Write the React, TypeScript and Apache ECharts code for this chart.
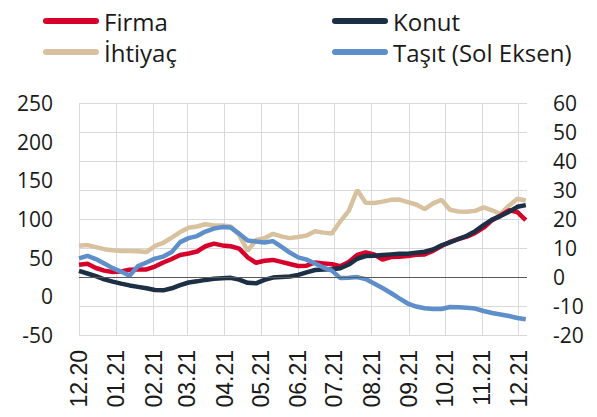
import React, { useEffect, useRef } from "react";
import * as echarts from "echarts";

// Weekly observation dates
const weeks: string[] = [
  "2020-12-01", "2020-12-08", "2020-12-15", "2020-12-22", "2020-12-29",
  "2021-01-05", "2021-01-12", "2021-01-19", "2021-01-26",
  "2021-02-02", "2021-02-09", "2021-02-16", "2021-02-23",
  "2021-03-02", "2021-03-09", "2021-03-16", "2021-03-23", "2021-03-30",
  "2021-04-06", "2021-04-13", "2021-04-20", "2021-04-27",
  "2021-05-04", "2021-05-11", "2021-05-18", "2021-05-25",
  "2021-06-01", "2021-06-08", "2021-06-15", "2021-06-22", "2021-06-29",
  "2021-07-06", "2021-07-13", "2021-07-20", "2021-07-27",
  "2021-08-03", "2021-08-10", "2021-08-17", "2021-08-24", "2021-08-31",
  "2021-09-07", "2021-09-14", "2021-09-21", "2021-09-28",
  "2021-10-05", "2021-10-12", "2021-10-19", "2021-10-26",
  "2021-11-02", "2021-11-09", "2021-11-16", "2021-11-23", "2021-11-30",
  "2021-12-07",
];

// Month tick labels (from 12.20 onwards)
const monthLabels: string[] = [
  "12.20", "01.21", "02.21", "03.21", "04.21", "05.21", "06.21",
  "07.21", "08.21", "09.21", "10.21", "11.21", "12.21",
];

// Right axis series
const firma: number[] = [
  4.2, 4.6, 3.1, 2.2, 1.7, 1.9, 2.5, 2.6, 2.6, 3.6, 5.0, 6.2, 7.6, 8.1, 8.8,
  10.6, 11.5, 10.9, 10.6, 9.8, 6.8, 4.9, 5.6, 5.9, 5.2, 4.5, 3.8, 3.9, 5.0,
  4.7, 4.4, 3.7, 5.2, 7.6, 8.5, 7.8, 6.0, 6.9, 7.0, 7.2, 7.7, 7.8, 9.0, 10.7,
  12.1, 13.1, 13.9, 15.2, 17.0, 19.6, 21.2, 23.0, 22.4, 19.6,
];
const konut: number[] = [
  2.1, 1.2, 0.3, -0.8, -1.6, -2.3, -2.9, -3.4, -3.9, -4.5, -4.6, -3.9, -2.8,
  -1.9, -1.5, -1.0, -0.6, -0.4, -0.3, -0.9, -2.0, -2.2, -1.0, -0.2, 0.0, 0.2,
  0.7, 1.6, 2.4, 2.6, 2.7, 3.0, 4.3, 6.3, 7.2, 7.3, 7.6, 7.8, 8.0, 8.0, 8.4,
  8.7, 9.5, 10.9, 11.9, 13.1, 14.2, 15.8, 17.9, 19.8, 21.0, 22.5, 24.2, 24.8,
];
const ihtiyac: number[] = [
  10.8, 11.0, 10.3, 9.6, 9.2, 9.0, 9.0, 8.9, 8.6, 10.7, 11.8, 13.6, 15.5, 17.0,
  17.4, 18.2, 17.8, 17.8, 17.4, 14.5, 9.0, 12.8, 13.4, 14.9, 14.0, 13.4, 13.8,
  14.3, 15.8, 15.3, 15.0, 19.2, 22.8, 30.0, 25.6, 25.5, 26.0, 26.6, 26.7, 25.8,
  25.0, 23.4, 25.4, 26.6, 23.2, 22.6, 22.5, 22.8, 24.0, 23.0, 21.7, 24.6, 27.0,
  26.4,
];
// Left axis series
const tasit: number[] = [
  49.1, 52.3, 48.2, 42.4, 36.5, 32.0, 26.6, 39.1, 43.7, 48.8, 51.4, 57.2, 70.1,
  75.3, 77.9, 83.7, 87.6, 89.5, 88.9, 81.1, 72.1, 70.8, 69.5, 71.4, 64.3, 56.6,
  50.4, 47.5, 42.4, 37.2, 33.3, 23.6, 23.9, 24.9, 22.3, 16.5, 10.7, 4.3, -2.6,
  -9.3, -13.2, -15.5, -16.4, -16.4, -13.8, -14.2, -14.9, -15.8, -19.0, -21.6,
  -23.5, -25.4, -28.0, -29.7,
];

const legendRow1: string[] = ["Firma", "Konut"];
const legendRow2: string[] = ["İhtiyaç", "Taşıt (Sol Eksen)"];

const toUTC = (s: string) => {
  const [y, m, d] = s.split("-").map(Number);
  return Date.UTC(y, m - 1, d);
};
const pair = (vals: number[]) => vals.map((v, i) => [toUTC(weeks[i]), v]);

const FONT = "'Open Sans', sans-serif";
const capsule =
  "path://M3,0 L53,0 A3,3 0 0 1 53,6 L3,6 A3,3 0 0 1 3,0 Z";

export default function App() {
  const ref = useRef<HTMLDivElement>(null);
  useEffect(() => {
    if (!ref.current) return;
    const chart = echarts.init(ref.current, undefined, { renderer: "svg" });
    const lineW = 4.5;
    const legendText = {
      fontFamily: FONT,
      fontSize: 24,
      color: "#1a1a1a",
      lineHeight: 28,
    };
    const legendBase = {
      left: 38,
      width: 560,
      itemWidth: 56,
      itemHeight: 6,
      itemGap: 5,
      icon: capsule,
      textStyle: legendText,
      selectedMode: false,
    };
    const rowData = (names: string[]) => [
      { name: names[0], textStyle: { width: 223, overflow: "none" } },
      { name: names[1], textStyle: { width: 190, overflow: "none" } },
    ];
    chart.setOption({
      animation: false,
      useUTC: true,
      backgroundColor: "#ffffff",
      grid: { left: 79, right: 70, top: 103, bottom: 82, containLabel: false },
      legend: [
        { ...legendBase, data: rowData(legendRow1), top: 2 },
        { ...legendBase, data: rowData(legendRow2), top: 33 },
      ],
      xAxis: {
        type: "time",
        min: toUTC("2020-12-01"),
        max: toUTC("2021-12-08"),
        splitNumber: 12,
        minInterval: 28 * 86400000,
        maxInterval: 31 * 86400000,
        axisLine: { show: false },
        axisTick: { show: false },
        splitLine: {
          show: true,
          showMaxLine: false,
          lineStyle: { color: "#d9d9d9", width: 1 },
        },
        axisLabel: {
          rotate: 90,
          margin: 15,
          fontFamily: "'Liberation Sans', Arial, sans-serif",
          fontSize: 23,
          color: "#1a1a1a",
          hideOverlap: false,
          formatter: (val: number) => {
            const d = new Date(val);
            if (d.getUTCDate() !== 1) return "";
            const idx =
              (d.getUTCFullYear() - 2020) * 12 + d.getUTCMonth() - 11;
            return monthLabels[idx] ?? "";
          },
        },
      },
      yAxis: [
        {
          type: "value",
          position: "left",
          min: -50,
          max: 250,
          interval: 50,
          axisLine: { show: false },
          axisTick: { show: false },
          splitLine: { show: false },
          axisLabel: {
            margin: 26,
            fontFamily: FONT,
            fontSize: 21,
            color: "#1a1a1a",
          },
        },
        {
          type: "value",
          position: "right",
          min: -20,
          max: 60,
          interval: 10,
          axisLine: { show: false },
          axisTick: { show: false },
          splitLine: { show: true, lineStyle: { color: "#d9d9d9", width: 1 } },
          axisLabel: {
            margin: 26,
            fontFamily: FONT,
            fontSize: 21,
            color: "#1a1a1a",
          },
        },
      ],
      series: [
        {
          name: "İhtiyaç",
          type: "line",
          yAxisIndex: 1,
          data: pair(ihtiyac),
          showSymbol: false,
          color: "#d8c19e",
          lineStyle: { width: lineW, color: "#d8c19e" },
          markLine: {
            silent: true,
            symbol: "none",
            label: { show: false },
            lineStyle: { color: "#595959", width: 1, type: "solid" },
            data: [{ yAxis: 0 }],
          },
        },
        {
          name: "Firma",
          type: "line",
          yAxisIndex: 1,
          data: pair(firma),
          showSymbol: false,
          color: "#d7002b",
          lineStyle: { width: lineW, color: "#d7002b" },
        },
        {
          name: "Konut",
          type: "line",
          yAxisIndex: 1,
          data: pair(konut),
          showSymbol: false,
          color: "#1c2f45",
          lineStyle: { width: lineW, color: "#1c2f45" },
        },
        {
          name: "Taşıt (Sol Eksen)",
          type: "line",
          yAxisIndex: 0,
          data: pair(tasit),
          showSymbol: false,
          color: "#5f8fcb",
          lineStyle: { width: lineW, color: "#5f8fcb" },
        },
      ],
    });
    return () => chart.dispose();
  }, []);
  return (
    <div
      ref={ref}
      style={{ position: "fixed", left: 0, top: 0, width: 597, height: 417 }}
    />
  );
}
